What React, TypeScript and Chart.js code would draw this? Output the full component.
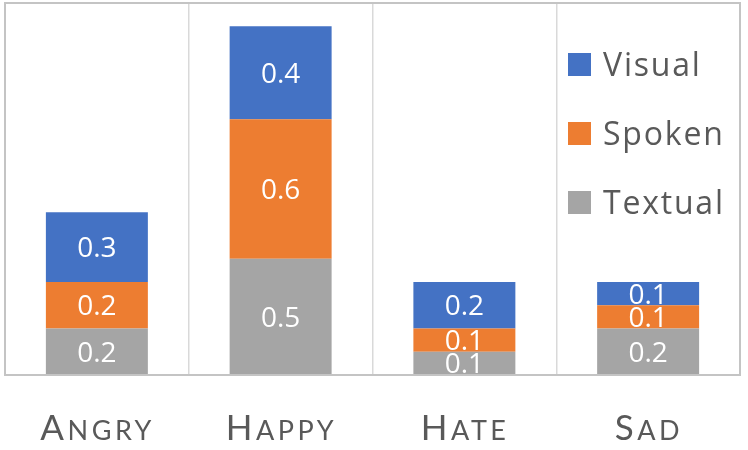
import React, { useEffect, useRef } from 'react';
import { Chart, registerables } from 'chart.js';

Chart.register(...registerables);

const categories = ['Angry', 'Happy', 'Hate', 'Sad'];
const seriesNames = ['Textual', 'Spoken', 'Visual'];
const textualValues = [0.2, 0.5, 0.1, 0.2];
const spokenValues = [0.2, 0.6, 0.1, 0.1];
const visualValues = [0.3, 0.4, 0.2, 0.1];
const seriesColors = ['#A5A5A5', '#ED7D31', '#4472C4'];
const yMax = 1.6;

const TEXT_COLOR = '#595959';

const framePlugin = {
  id: 'frame',
  afterDraw(chart: any) {
    const { ctx, chartArea } = chart;
    ctx.save();
    ctx.strokeStyle = '#C4C4C4';
    ctx.lineWidth = 2;
    ctx.strokeRect(chartArea.left, chartArea.top, chartArea.right - chartArea.left, chartArea.bottom - chartArea.top);
    ctx.restore();
  },
};

const dataLabelPlugin = {
  id: 'dataLabels',
  afterDatasetsDraw(chart: any) {
    const { ctx, chartArea } = chart;
    ctx.save();
    ctx.beginPath();
    ctx.rect(chartArea.left, chartArea.top, chartArea.right - chartArea.left, chartArea.bottom - chartArea.top - 1);
    ctx.clip();
    ctx.font = '28px "Open Sans"';
    ctx.fillStyle = '#FFFFFF';
    ctx.textAlign = 'center';
    ctx.textBaseline = 'alphabetic';
    chart.data.datasets.forEach((ds: any, di: number) => {
      const meta = chart.getDatasetMeta(di);
      meta.data.forEach((el: any, i: number) => {
        const v = ds.data[i];
        const cy = (el.y + el.base) / 2;
        ctx.fillText(v.toFixed(1), el.x, cy + 10);
      });
    });
    ctx.restore();
  },
};

const categoryLabelPlugin = {
  id: 'categoryLabels',
  afterDraw(chart: any) {
    const { ctx } = chart;
    const xs = chart.scales.x;
    ctx.save();
    ctx.fillStyle = TEXT_COLOR;
    ctx.textAlign = 'left';
    ctx.textBaseline = 'alphabetic';
    (ctx as any).letterSpacing = '3.5px';
    const bigFont = '35px Lato';
    const smallFont = '27px Lato';
    categories.forEach((c, i) => {
      const x = xs.getPixelForValue(i);
      const first = c[0].toUpperCase();
      const rest = c.slice(1).toUpperCase();
      ctx.font = bigFont;
      const w1 = ctx.measureText(first).width;
      ctx.font = smallFont;
      const w2 = ctx.measureText(rest).width;
      const start = x - (w1 + w2 - 3.5) / 2 - 1;
      const baseline = chart.chartArea.bottom + 65;
      ctx.font = bigFont;
      ctx.fillText(first, start, baseline);
      ctx.font = smallFont;
      ctx.fillText(rest, start + w1, baseline);
    });
    ctx.restore();
  },
};

const legendPlugin = {
  id: 'customLegend',
  afterDraw(chart: any) {
    const { ctx, chartArea } = chart;
    ctx.save();
    const boxX = chartArea.right - 172;
    const size = 23;
    ctx.font = '32px "Open Sans"';
    (ctx as any).letterSpacing = '1.8px';
    ctx.textAlign = 'left';
    ctx.textBaseline = 'alphabetic';
    const order = [2, 1, 0];
    order.forEach((si, k) => {
      const cy = chartArea.top + 61.5 + 69 * k;
      ctx.fillStyle = seriesColors[si];
      ctx.fillRect(boxX, cy - size / 2, size, size);
      ctx.fillStyle = TEXT_COLOR;
      ctx.fillText(seriesNames[si], boxX + 35, cy + 11.5);
    });
    ctx.restore();
  },
};

export default function App() {
  const canvasRef = useRef<HTMLCanvasElement | null>(null);

  useEffect(() => {
    if (!canvasRef.current) return;
    const valueSets = [textualValues, spokenValues, visualValues];
    const chart = new Chart(canvasRef.current, {
      type: 'bar',
      data: {
        labels: categories,
        datasets: seriesNames.map((name, i) => ({
          label: name,
          data: valueSets[i],
          backgroundColor: seriesColors[i],
          borderWidth: 0,
          barPercentage: 0.555,
          categoryPercentage: 1,
        })),
      },
      options: {
        responsive: false,
        animation: false,
        devicePixelRatio: 1,
        layout: { padding: { left: 5, right: 8, top: 3, bottom: 75 } },
        plugins: {
          legend: { display: false },
          tooltip: { enabled: false },
        },
        scales: {
          x: {
            stacked: true,
            grid: { display: true, offset: true, color: '#D9D9D9', lineWidth: 1.5, drawTicks: false },
            border: { display: true, color: '#BFBFBF', width: 2 },
            ticks: { display: false },
          },
          y: {
            stacked: true,
            display: false,
            min: 0,
            max: yMax,
          },
        },
      },
      plugins: [dataLabelPlugin, framePlugin, categoryLabelPlugin, legendPlugin],
    });
    return () => chart.destroy();
  }, []);

  return (
    <div style={{ position: 'absolute', left: 0, top: 0, width: 748, height: 450, background: '#fff' }}>
      <canvas ref={canvasRef} width={748} height={450} style={{ width: 748, height: 450, display: 'block' }} />
    </div>
  );
}
